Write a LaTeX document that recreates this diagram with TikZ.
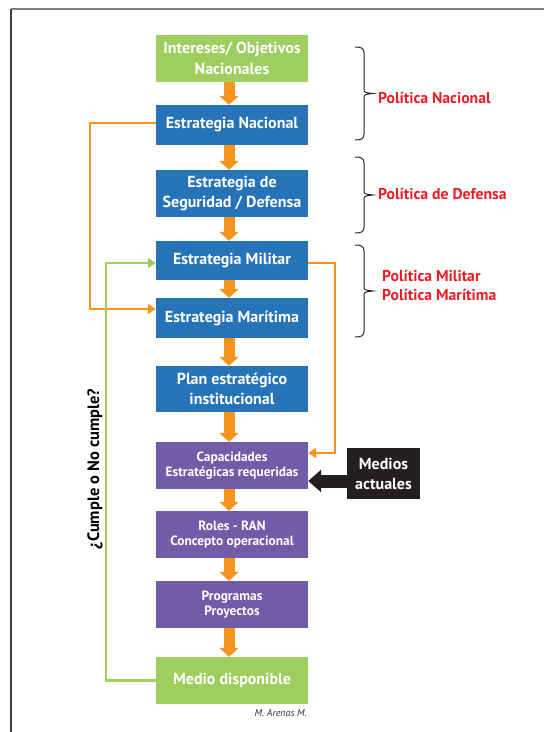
\documentclass[tikz,border=0pt]{standalone}
\usepackage{fontspec}
\setmainfont{PT Sans}
\usetikzlibrary{arrows.meta,calc}
\definecolor{cgreen}{RGB}{157,206,94}
\definecolor{cblue}{RGB}{38,115,184}
\definecolor{cpurple}{RGB}{114,92,168}
\definecolor{corange}{RGB}{247,148,29}
\definecolor{cred}{RGB}{237,28,36}
\definecolor{cblack}{RGB}{35,31,32}
\tikzset{
  box/.style={minimum width=152pt, inner sep=0pt, text=white, align=center, font=\bfseries\fontsize{16}{20.5}\selectfont},
  gbox/.style={box, fill=cgreen},
  bbox/.style={box, fill=cblue},
  pbox/.style={box, fill=cpurple, font=\bfseries\fontsize{13.4}{15.5}\selectfont},
  blk/.style={draw=corange, line width=11pt, -{Triangle[width=19pt,length=9pt]}},
  oline/.style={draw=corange, line width=2.5pt, -{Triangle[width=10pt,length=8pt]}},
  gline/.style={draw=cgreen, line width=2.5pt, -{Triangle[width=10pt,length=8pt]}},
  brc/.style={draw=black!85, line width=1pt},
  plabel/.style={text=cred, font=\bfseries\fontsize{15.7}{19}\selectfont, anchor=west, align=left, inner sep=0pt}
}
\newcommand\mybrace[3]{%
  \draw[brc] (#1,#2) .. controls ({#1+6},#2) and ({#1+9},{#2+1}) .. ({#1+9},{#2+6})
    -- ({#1+9},{(#2+#3)/2-5}) .. controls ({#1+9},{(#2+#3)/2-1}) .. ({#1+18},{(#2+#3)/2})
    .. controls ({#1+9},{(#2+#3)/2+1}) .. ({#1+9},{(#2+#3)/2+5})
    -- ({#1+9},{#3-6}) .. controls ({#1+9},{#3-1}) and ({#1+6},#3) .. (#1,#3);}
\begin{document}
\begin{tikzpicture}[x=1pt,y=-1pt]
\useasboundingbox (0,0) rectangle (544,732);
% frame
\draw[draw=black!50, line width=2pt] (11,9) -- (544,9);
\draw[draw=black!75, line width=1.5pt] (11,9) -- (11,732);
% boxes
\node[gbox, minimum height=47pt] (int) at (232,58.5) {Intereses/ Objetivos\\Nacionales};
\node[bbox, minimum height=40pt] (nac) at (232,125) {Estrategia Nacional};
\node[bbox, minimum height=47pt] (seg) at (232,193.5) {Estrategia de\\Seguridad / Defensa};
\node[bbox, minimum height=39pt] (mil) at (232,260.5) {Estrategia Militar};
\node[bbox, minimum height=40pt] (mar) at (232,318) {Estrategia Marítima};
\node[bbox, minimum height=46pt] (pla) at (232,389) {Plan estratégico\\institucional};
\node[pbox, minimum height=47pt] (cap) at (232,465.5) {Capacidades\\Estratégicas requeridas};
\node[pbox, minimum height=47pt] (rol) at (232,534.5) {Roles - RAN\\Concepto operacional};
\node[pbox, minimum height=47pt] (pro) at (232,604.5) {Programas\\Proyectos};
\node[gbox, minimum height=47pt] (med) at (232,680.5) {Medio disponible};
\node[fill=cblack, text=white, minimum width=73pt, minimum height=51pt, inner sep=0pt, align=center,
      font=\bfseries\fontsize{16}{20}\selectfont] (act) at (383.5,473.5) {Medios\\actuales};
% block arrows
\foreach \a/\b in {int/nac,nac/seg,seg/mil,mil/mar,mar/pla,pla/cap,cap/rol,rol/pro,pro/med}
  \draw[blk] ([xshift=-3pt]\a.south) -- ([xshift=-3pt]\b.north);
% black arrow
\draw[draw=cblack, line width=13pt, -{Triangle[width=22pt,length=13pt]}] ([yshift=-7.5pt]act.west) -- ([yshift=-7.5pt]act.west -| cap.east);
% loops
\draw[oline] ([yshift=2pt]nac.west) -- ++(-66,0) |- ([yshift=9pt]mar.west);
\draw[gline] (med.west) -- ++(-50,0) |- ([yshift=-2.5pt]mil.west);
\draw[oline] ([yshift=-2.5pt]mil.east) -- ++(27,0) |- ([yshift=12.5pt]cap.east);
% rotated label
\node[rotate=90, font=\bfseries\fontsize{16.5}{18}\selectfont, inner sep=0pt] (cum) at (95,469) {¿Cumple o No cumple?};
% braces
\mybrace{355}{47}{140}
\mybrace{355}{157}{233}
\mybrace{355}{245}{337}
\node[plabel] (pn) at (378,98) {Política Nacional};
\node[plabel] (pd) at (378,194) {Política de Defensa};
\node[plabel] (pm) at (382,285.5) {Política Militar\\Política Marítima};
% author
\node[anchor=east, inner sep=0pt, font=\itshape\fontsize{10}{12}\selectfont, text=black!80] (aut) at (307,713) {M. Arenas M.};
\end{tikzpicture}
\end{document}
